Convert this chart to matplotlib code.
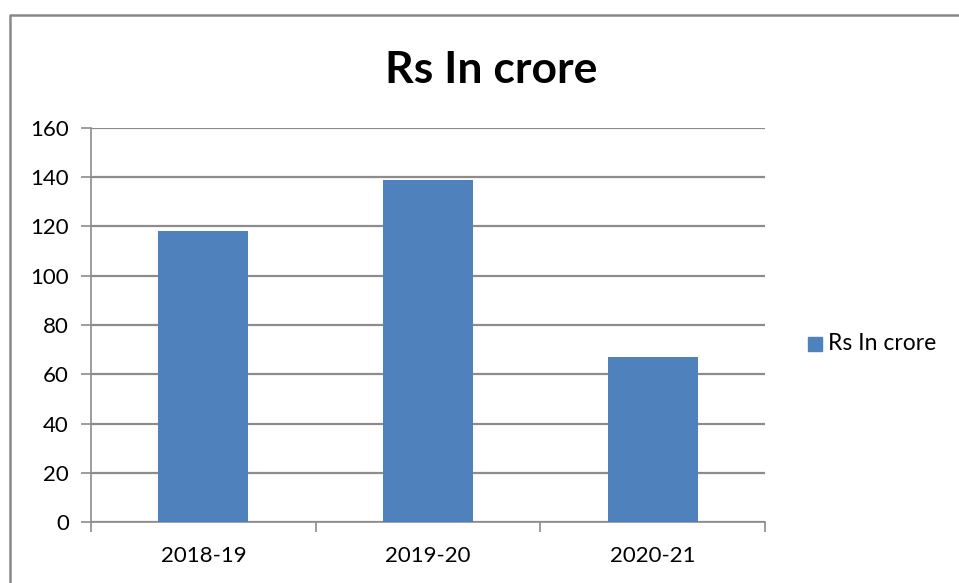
import matplotlib.pyplot as plt
from matplotlib.lines import Line2D
from matplotlib.patches import Rectangle
import numpy as np

years = ['2018-19', '2019-20', '2020-21']
values = [118, 139, 67]
yticks = [0, 20, 40, 60, 80, 100, 120, 140, 160]
series_name = 'Rs In crore'

BAR = '#4f81bd'
GRID = '#8c8c8c'
W, H = 959, 583

plt.rcParams['font.family'] = ['Lato', 'DejaVu Sans']

fig = plt.figure(figsize=(W / 100, H / 100), dpi=100)
ax = fig.add_axes([91 / W, (H - 522) / H, 674 / W, 394 / H])

x = np.arange(len(years))
ax.bar(x, values, width=0.4, color=BAR, zorder=3)

ax.set_xlim(-0.5, len(years) - 0.5)
ax.set_ylim(0, 160)
ax.set_yticks(yticks)
ax.set_yticklabels([str(t) for t in yticks], fontsize=16)
ax.yaxis.grid(True, color=GRID, linewidth=1.6, zorder=0)
ax.tick_params(axis='y', length=7, color=GRID, width=1.2, pad=9)

# categories labelled at centre, ticks at the boundaries
ax.set_xticks(x)
ax.set_xticklabels(years, fontsize=16)
ax.set_xticks(np.arange(-0.5, len(years)), minor=True)
ax.tick_params(axis='x', which='major', length=0, pad=17)
ax.tick_params(axis='x', which='minor', length=7, color=GRID, width=1.2)

for s in ['top', 'right']:
    ax.spines[s].set_visible(False)
for s in ['left', 'bottom']:
    ax.spines[s].set_color(GRID)
    ax.spines[s].set_linewidth(1.2)

fig.text(491 / W, 1 - 70 / H, series_name, ha='center', va='center',
         fontsize=32, fontweight='bold')

# legend
fig.add_artist(Rectangle((808 / W, 1 - 351 / H), 14 / W, 14 / H,
                         transform=fig.transFigure, color=BAR))
fig.text(828 / W, 1 - 344 / H, series_name, ha='left', va='center', fontsize=16.5)

# chart frame
fig.add_artist(Line2D([10 / W, 10 / W, 958 / W], [0, 1 - 15 / H, 1 - 15 / H],
                      transform=fig.transFigure, color='#888888', linewidth=1.8))

fig.savefig('out.png', dpi=100)
plt.close()
